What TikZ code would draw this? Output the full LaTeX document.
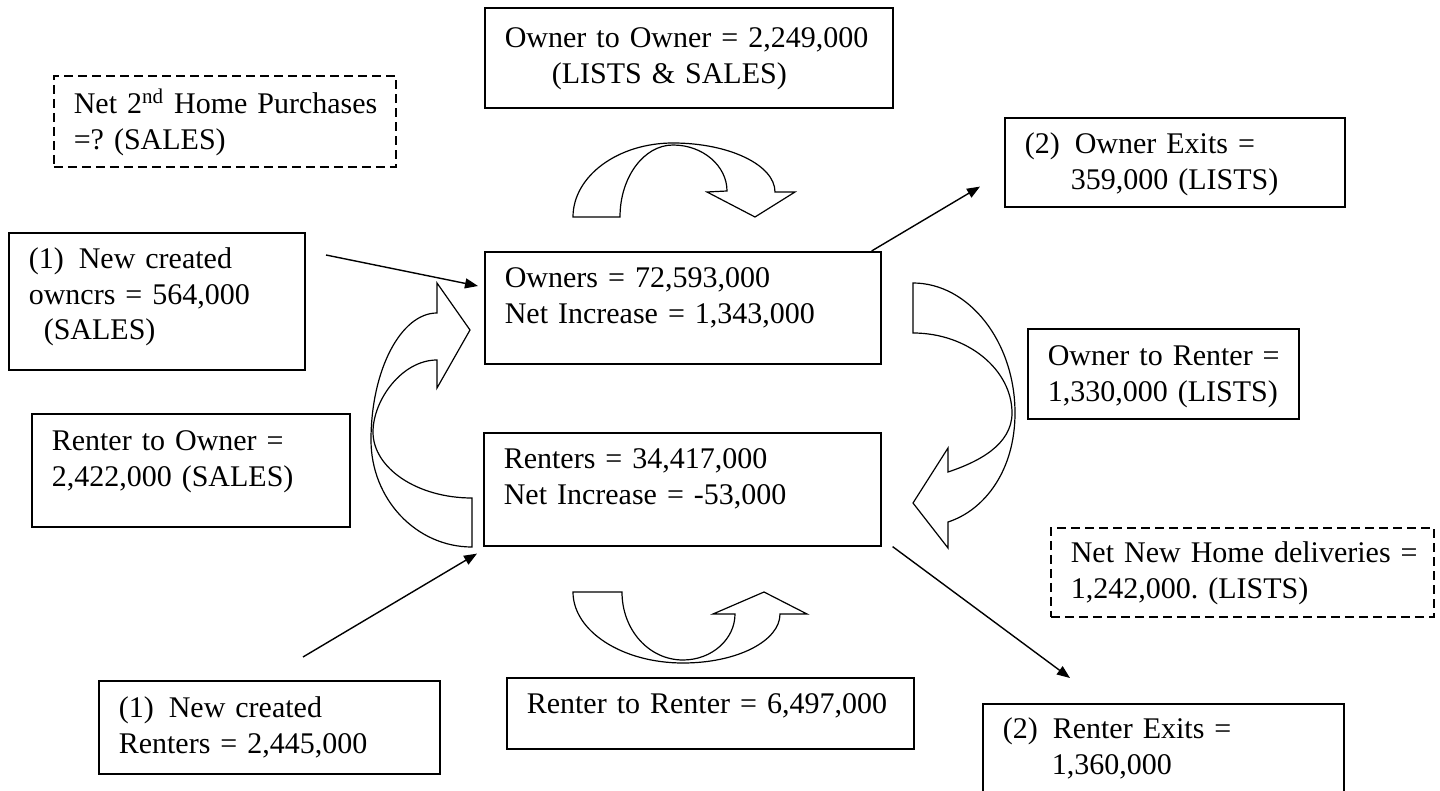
\documentclass[tikz,border=0pt]{standalone}
\usepackage{fontspec}
\setmainfont{Liberation Serif}
\usepackage{tikz}
\usetikzlibrary{arrows.meta,calc}
\newcommand{\boxfont}{\fontsize{15}{17.75}\selectfont\frenchspacing}
\tikzset{
  cbox/.style={draw, line width=0.8pt, anchor=north west, align=left,
      inner xsep=10pt, inner ysep=0pt, text height=18pt, font=\boxfont},
  dbox/.style={cbox, dash pattern=on 4.5pt off 2.5pt},
  flow/.style={-{Triangle[length=6.5pt,width=5pt]}, line width=0.7pt},
  blockarrow/.style={draw, fill=white, line width=0.6pt, line join=miter},
}

\begin{document}
\begin{tikzpicture}[x=0.5pt,y=-0.5pt]
\useasboundingbox (0,0) rectangle (1440,791);
\clip (0,0) rectangle (1440,791);
% stocks
\node[cbox, text width=178pt, text depth=38pt] (ow) at (484,251)
  {Owners = 72,593,000\\Net Increase = 1,343,000};
\node[cbox, text width=178.5pt, text depth=38.5pt] (re) at (483,432)
  {Renters = 34,417,000\\Net Increase = -53,000};
% flows between the stocks
\node[cbox, text width=184pt, text depth=30pt, text height=20pt] (oo) at (484,7)
  {\mbox{Owner to Owner = 2,249,000}\\\hspace*{23.5pt}(LISTS \& SALES)};
\node[cbox, text width=115.5pt, text depth=26.5pt, text height=18.5pt] (orr) at (1027,328)
  {\mbox{Owner to Renter =}\\\mbox{1,330,000 (LISTS)}};
\node[cbox, text width=139pt, text depth=38pt, text height=18.5pt] (ro) at (31,413)
  {Renter to Owner =\\\mbox{2,422,000 (SALES)}};
\node[cbox, text width=183.5pt, text depth=17.5pt] (rr) at (506,677)
  {\mbox{Renter to Renter = 6,497,000}};
% entries and exits
\node[cbox, text width=128pt, text depth=50.5pt] (no) at (8,232)
  {(1)\hspace{7.5pt}New created\\\mbox{owncrs = 564,000}\\\hspace*{7.5pt}(SALES)};
\node[cbox, text width=150.5pt, text depth=28pt, text height=18.5pt] (nr) at (98,680)
  {(1)\hspace{7.5pt}New created\\\mbox{Renters = 2,445,000}};
\node[cbox, text width=150pt, text depth=26.5pt] (ox) at (1004,117)
  {\mbox{(2)\hspace{7.5pt}Owner Exits =}\\\hspace*{23pt}\mbox{359,000 (LISTS)}};
\node[cbox, text width=160.5pt, text depth=31pt, text height=17.5pt] (rx) at (982,703)
  {\mbox{(2)\hspace{7.5pt}Renter Exits =}\\\hspace*{24.5pt}1,360,000};
% unknown / side notes
\node[dbox, text width=151pt, text depth=26.5pt, text height=19pt] (hp) at (53,75)
  {\mbox{Net 2\textsuperscript{nd} Home Purchases}\\=? (SALES)};
\node[dbox, text width=171.5pt, text depth=27pt, text height=17.5pt] (nd) at (1050,527)
  {\mbox{Net New Home deliveries =}\\\mbox{1,242,000. (LISTS)}};

% curved block arrows
\draw[blockarrow] (573,217) .. controls (573,176) and (618,143) .. (673,143)
  .. controls (729,143) and (775,165) .. (775,192) -- (795,192) -- (755,217)
  -- (707,192) -- (727,191) .. controls (727,166) and (703,145) .. (673,145)
  .. controls (644,145) and (620,177) .. (620,217) -- cycle;
\draw[blockarrow] (913,283) .. controls (969,283) and (1015,342) .. (1015,413)
  .. controls (1015,470) and (985,510) .. (948,522) -- (948,548) -- (913,503)
  -- (948,448) -- (948,472) .. controls (978,462) and (1012,445) .. (1012,413)
  .. controls (1012,370) and (968,333) .. (913,333) -- cycle;
\draw[blockarrow] (472,547) .. controls (416,547) and (371,499) .. (371,440)
  .. controls (371,370) and (401,313) .. (437,313) -- (437,283) -- (470,330)
  -- (437,388) -- (437,360) .. controls (402,360) and (373,400) .. (373,432)
  .. controls (373,468) and (417,498) .. (472,498) -- cycle;
\draw[blockarrow] (573,592) .. controls (573,631) and (622,663) .. (683,663)
  .. controls (737,663) and (780,641) .. (780,614) -- (807,614) -- (764,592)
  -- (713,614) -- (735,614) .. controls (735,639) and (712,660) .. (683,660)
  .. controls (649,660) and (622,630) .. (622,592) -- cycle;

% entry / exit connectors
\coordinate (noend) at (326,255);
\coordinate (nrend) at (303,657);
\draw[flow] (noend) -- ([xshift=-3pt,yshift=-17.5pt]ow.north west);
\draw[flow] (nrend) -- ([xshift=-3pt,yshift=-3.5pt]re.south west);
\draw[flow] ([xshift=-5pt]ow.north east) -- ([xshift=-12pt,yshift=10.5pt]ox.south west);
\draw[flow] ([xshift=5.5pt]re.south east) -- ([xshift=44pt,yshift=12.5pt]rx.north west);
\end{tikzpicture}
\end{document}
